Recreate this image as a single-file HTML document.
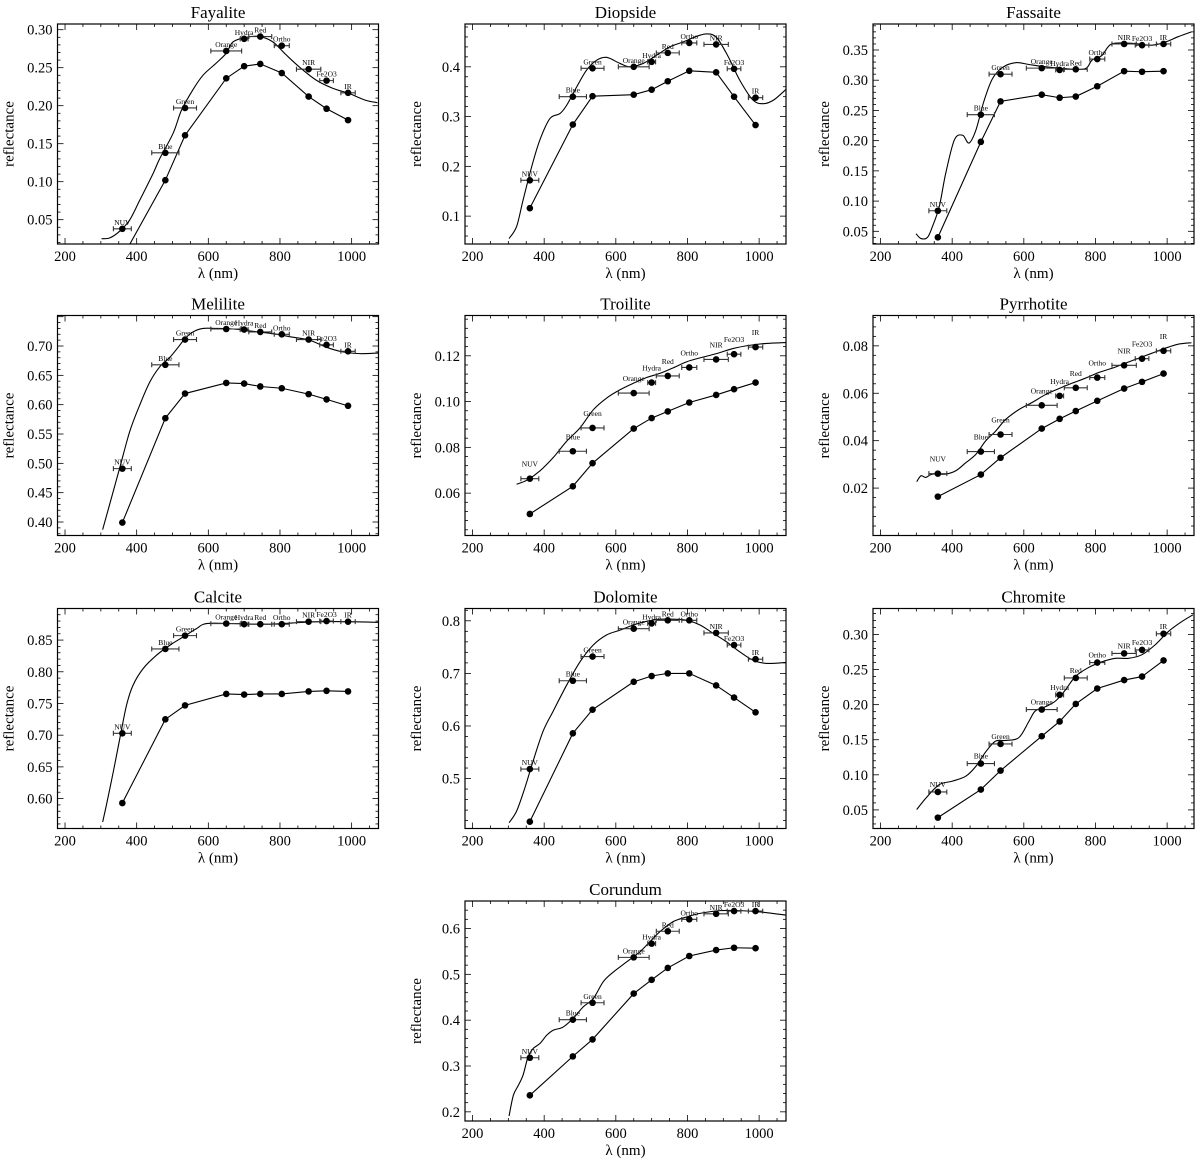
<!DOCTYPE html>
<html><head><meta charset="utf-8"><title>Mineral reflectance spectra</title>
<style>
html,body{margin:0;padding:0;background:#fff;}
svg{display:block;font-family:"Liberation Serif","DejaVu Serif",serif;}
</style></head>
<body>
<svg id="fig" width="1200" height="1163" viewBox="0 0 1200 1163" xmlns="http://www.w3.org/2000/svg"></svg>
<script>
// ---- shared filter data ----
const FILTER_NAMES = ['NUV','Blue','Green','Orange','Hydra','Red','Ortho','NIR','Fe2O3','IR'];
const FILTER_WL = [360,480,535,650,700,745,805,880,930,990];
const FILTER_HW = [25,38,32,43,11,32,21,34,19,20];
const X_TICKS = [200,400,600,800,1000];

// ---- Fayalite ----
const fayaliteUpper = [0.038,0.138,0.197,0.272,0.288,0.291,0.279,0.248,0.233,0.217];
const fayaliteLower = [0.0,0.102,0.161,0.236,0.252,0.255,0.243,0.212,0.196,0.181];
const fayaliteSpecW = [302,325,353,381,409,446,464,502,525,557,585,622,650,669,706,743,780,817,854,900,947,993,1040,1072];
const fayaliteSpecV = [0.025,0.026,0.035,0.050,0.076,0.111,0.130,0.164,0.194,0.221,0.240,0.256,0.269,0.284,0.290,0.291,0.284,0.267,0.251,0.234,0.223,0.216,0.207,0.204];
const fayaliteTicks = [0.05,0.10,0.15,0.20,0.25,0.30];
// ---- Diopside ----
const diopsideUpper = [0.172,0.340,0.397,0.400,0.410,0.428,0.448,0.445,0.396,0.338];
const diopsideLower = [0.116,0.284,0.341,0.344,0.354,0.371,0.392,0.389,0.340,0.283];
const diopsideSpecW = [302,323,341,365,388,416,444,463,491,518,546,574,611,639,677,713,751,788,821,853,881,914,946,983,1012,1040,1077];
const diopsideSpecV = [0.055,0.079,0.132,0.199,0.253,0.296,0.306,0.323,0.360,0.393,0.413,0.419,0.407,0.400,0.407,0.423,0.440,0.450,0.460,0.466,0.459,0.420,0.373,0.333,0.326,0.333,0.356];
const diopsideTicks = [0.1,0.2,0.3,0.4];
// ---- Fassaite ----
const fassaiteUpper = [0.084,0.243,0.310,0.320,0.317,0.318,0.335,0.360,0.358,0.360];
const fassaiteLower = [0.040,0.198,0.265,0.276,0.271,0.273,0.290,0.315,0.314,0.315];
const fassaiteSpecW = [299,313,331,345,364,382,406,429,447,466,489,512,540,577,614,651,716,771,790,818,845,901,957,994,1031,1068];
const fassaiteSpecV = [0.046,0.038,0.040,0.058,0.091,0.146,0.201,0.209,0.196,0.217,0.266,0.302,0.321,0.329,0.326,0.323,0.319,0.319,0.333,0.341,0.360,0.361,0.358,0.363,0.372,0.380];
const fassaiteTicks = [0.05,0.10,0.15,0.20,0.25,0.30,0.35];
// ---- Melilite ----
const meliliteUpper = [0.491,0.668,0.711,0.729,0.728,0.724,0.720,0.711,0.702,0.691];
const meliliteLower = [0.399,0.577,0.619,0.637,0.636,0.631,0.628,0.618,0.609,0.598];
const meliliteSpecW = [305,325,353,381,409,437,465,493,516,534,557,585,622,669,725,780,836,882,929,975,1022,1074];
const meliliteSpecV = [0.387,0.431,0.493,0.555,0.600,0.639,0.665,0.681,0.698,0.712,0.724,0.730,0.730,0.729,0.725,0.721,0.715,0.710,0.698,0.690,0.687,0.688];
const meliliteTicks = [0.40,0.45,0.50,0.55,0.60,0.65,0.70];
// ---- Troilite ----
const troiliteUpper = [0.0663,0.0783,0.0885,0.1037,0.1083,0.1112,0.1149,0.1184,0.1207,0.1238];
const troiliteLower = [0.0509,0.0630,0.0731,0.0882,0.0928,0.0957,0.0996,0.1029,0.1054,0.1083];
const troiliteSpecW = [323,351,388,425,463,500,537,574,611,649,686,723,761,798,835,882,928,975,1021,1077];
const troiliteSpecV = [0.0639,0.0656,0.0697,0.0755,0.0827,0.0885,0.0964,0.1015,0.1051,0.1080,0.1105,0.1123,0.1148,0.1174,0.1191,0.1210,0.1232,0.1246,0.1254,0.1258];
const troiliteTicks = [0.06,0.08,0.10,0.12];
// ---- Pyrrhotite ----
const pyrrhotiteUpper = [0.0261,0.0354,0.0426,0.0549,0.0589,0.0623,0.0666,0.0718,0.0746,0.0779];
const pyrrhotiteLower = [0.0164,0.0257,0.0328,0.0451,0.0492,0.0525,0.0568,0.0620,0.0648,0.0683];
const pyrrhotiteSpecW = [301,313,326,345,382,410,438,466,493,521,549,586,623,660,697,734,771,808,845,882,919,956,993,1031,1068];
const pyrrhotiteSpecV = [0.0227,0.0252,0.0245,0.0259,0.0259,0.0273,0.0307,0.0342,0.0398,0.0440,0.0489,0.0531,0.0561,0.0594,0.0619,0.0642,0.0663,0.0687,0.0705,0.0726,0.0747,0.0768,0.0789,0.0807,0.0813];
const pyrrhotiteTicks = [0.02,0.04,0.06,0.08];
// ---- Calcite ----
const calciteUpper = [0.703,0.836,0.857,0.876,0.875,0.875,0.875,0.879,0.880,0.879];
const calciteLower = [0.593,0.725,0.747,0.765,0.764,0.765,0.765,0.769,0.770,0.769];
const calciteSpecW = [305,316,335,353,372,390,418,455,493,530,567,595,669,761,836,910,993,1074];
const calciteSpecV = [0.563,0.591,0.643,0.695,0.748,0.779,0.805,0.826,0.842,0.855,0.868,0.876,0.876,0.875,0.877,0.879,0.879,0.878];
const calciteTicks = [0.60,0.65,0.70,0.75,0.80,0.85];
// ---- Dolomite ----
const dolomiteUpper = [0.518,0.686,0.732,0.785,0.795,0.801,0.801,0.777,0.754,0.727];
const dolomiteLower = [0.418,0.586,0.631,0.684,0.695,0.700,0.700,0.677,0.654,0.626];
const dolomiteSpecW = [302,323,346,369,397,425,463,500,537,574,611,649,686,723,761,798,835,872,909,946,983,1021,1077];
const dolomiteSpecV = [0.416,0.438,0.482,0.533,0.590,0.628,0.678,0.722,0.754,0.773,0.782,0.792,0.799,0.803,0.803,0.801,0.792,0.776,0.760,0.741,0.725,0.719,0.721];
const dolomiteTicks = [0.5,0.6,0.7,0.8];
// ---- Chromite ----
const chromiteUpper = [0.0756,0.116,0.144,0.193,0.214,0.238,0.260,0.273,0.278,0.301];
const chromiteLower = [0.039,0.079,0.106,0.155,0.176,0.201,0.223,0.235,0.240,0.263];
const chromiteSpecW = [301,327,364,401,438,466,494,521,549,586,614,632,660,688,716,744,781,818,855,892,929,966,1003,1040,1072];
const chromiteSpecV = [0.0505,0.067,0.086,0.091,0.098,0.112,0.133,0.148,0.149,0.153,0.176,0.191,0.197,0.205,0.221,0.240,0.253,0.261,0.266,0.266,0.271,0.285,0.304,0.318,0.328];
const chromiteTicks = [0.05,0.10,0.15,0.20,0.25,0.30];
// ---- Corundum ----
const corundumUpper = [0.318,0.401,0.438,0.537,0.567,0.594,0.620,0.632,0.638,0.638];
const corundumLower = [0.236,0.321,0.358,0.458,0.488,0.514,0.540,0.553,0.558,0.557];
const corundumSpecW = [302,314,328,341,355,369,388,407,425,453,481,509,537,565,593,630,667,695,723,760,797,835,891,947,1003,1077];
const corundumSpecV = [0.191,0.236,0.258,0.280,0.320,0.338,0.349,0.367,0.378,0.385,0.404,0.429,0.447,0.484,0.505,0.527,0.549,0.571,0.593,0.615,0.625,0.633,0.639,0.639,0.636,0.629];
const corundumTicks = [0.2,0.3,0.4,0.5,0.6];

const X_MIN = 179, X_MAX = 1075;
const COL_X = [57.5, 465, 873];
const ROW_Y = [24, 315.5, 608.5, 901];
const BOX_W = 321, BOX_H = 220;

const panels = [
 {name:'Fayalite', key:'fayalite', col:0,row:0,ymin:0.018,ymax:0.3075,dec:2,lab:4,up:fayaliteUpper,lo:fayaliteLower,sw:fayaliteSpecW,sv:fayaliteSpecV,ticks:fayaliteTicks},
 {name:'Diopside', key:'diopside', col:1,row:0,ymin:0.044,ymax:0.486,dec:1,lab:4,up:diopsideUpper,lo:diopsideLower,sw:diopsideSpecW,sv:diopsideSpecV,ticks:diopsideTicks},
 {name:'Fassaite', key:'fassaite', col:2,row:0,ymin:0.029,ymax:0.393,dec:2,lab:4,up:fassaiteUpper,lo:fassaiteLower,sw:fassaiteSpecW,sv:fassaiteSpecV,ticks:fassaiteTicks},
 {name:'Melilite', key:'melilite', col:0,row:1,ymin:0.377,ymax:0.752,dec:2,lab:4,up:meliliteUpper,lo:meliliteLower,sw:meliliteSpecW,sv:meliliteSpecV,ticks:meliliteTicks},
 {name:'Troilite', key:'troilite', col:1,row:1,ymin:0.0415,ymax:0.1376,dec:2,lab:12,up:troiliteUpper,lo:troiliteLower,sw:troiliteSpecW,sv:troiliteSpecV,ticks:troiliteTicks},
 {name:'Pyrrhotite', key:'pyrrhotite', col:2,row:1,ymin:0.0,ymax:0.0928,dec:2,lab:12,up:pyrrhotiteUpper,lo:pyrrhotiteLower,sw:pyrrhotiteSpecW,sv:pyrrhotiteSpecV,ticks:pyrrhotiteTicks},
 {name:'Calcite', key:'calcite', col:0,row:2,ymin:0.5528,ymax:0.8998,dec:2,lab:4,up:calciteUpper,lo:calciteLower,sw:calciteSpecW,sv:calciteSpecV,ticks:calciteTicks},
 {name:'Dolomite', key:'dolomite', col:1,row:2,ymin:0.405,ymax:0.8234,dec:1,lab:4,up:dolomiteUpper,lo:dolomiteLower,sw:dolomiteSpecW,sv:dolomiteSpecV,ticks:dolomiteTicks},
 {name:'Chromite', key:'chromite', col:2,row:2,ymin:0.0235,ymax:0.337,dec:2,lab:5,up:chromiteUpper,lo:chromiteLower,sw:chromiteSpecW,sv:chromiteSpecV,ticks:chromiteTicks},
 {name:'Corundum', key:'corundum', col:1,row:3,ymin:0.18,ymax:0.66,dec:1,lab:4,up:corundumUpper,lo:corundumLower,sw:corundumSpecW,sv:corundumSpecV,ticks:corundumTicks}
];

const NS = 'http://www.w3.org/2000/svg';
const svg = document.getElementById('fig');
function mk(tag, attrs, parent){
  const e = document.createElementNS(NS, tag);
  for (const k in attrs) e.setAttribute(k, attrs[k]);
  (parent||svg).appendChild(e);
  return e;
}
function smoothPath(pts){
  let d = 'M' + pts[0][0].toFixed(2) + ',' + pts[0][1].toFixed(2);
  for (let i = 0; i < pts.length - 1; i++) {
    const p0 = pts[Math.max(0, i-1)], p1 = pts[i], p2 = pts[i+1], p3 = pts[Math.min(pts.length-1, i+2)];
    const c1x = p1[0] + (p2[0]-p0[0])/6, c1y = p1[1] + (p2[1]-p0[1])/6;
    const c2x = p2[0] - (p3[0]-p1[0])/6, c2y = p2[1] - (p3[1]-p1[1])/6;
    d += 'C' + c1x.toFixed(2) + ',' + c1y.toFixed(2) + ' ' + c2x.toFixed(2) + ',' + c2y.toFixed(2) + ' ' + p2[0].toFixed(2) + ',' + p2[1].toFixed(2);
  }
  return d;
}
const defs = mk('defs', {});

panels.forEach(function(p, pi){
  const L = COL_X[p.col], T = ROW_Y[p.row], R = L + BOX_W, B = T + BOX_H;
  const xs = function(w){ return L + (w - X_MIN) / (X_MAX - X_MIN) * BOX_W; };
  const ys = function(v){ return B - (v - p.ymin) / (p.ymax - p.ymin) * BOX_H; };
  const g = mk('g', {});
  
  

  const cp = mk('clipPath', {id:'clip' + pi}, defs);
  mk('rect', {x:L, y:T, width:BOX_W, height:BOX_H}, cp);

  const title = mk('text', {x:L + BOX_W/2, y:T - 6, 'text-anchor':'middle', 'font-size':'17', fill:'#000'}, g);
  title.textContent = p.name;
  
  

  const frame = mk('rect', {x:L, y:T, width:BOX_W, height:BOX_H, fill:'none', stroke:'#000', 'stroke-width':'1.2'}, g);
  
  

  const xt = mk('g', {stroke:'#000', 'stroke-width':'0.8'}, g);
  
  
  for (let w = 200; w <= X_MAX; w += 50) {
    const major = (w % 200 === 0);
    const len = major ? 6 : 3;
    const x = xs(w);
    mk('line', {x1:x, y1:B, x2:x, y2:B - len}, xt);
    mk('line', {x1:x, y1:T, x2:x, y2:T + len}, xt);
  }
  X_TICKS.forEach(function(w){
    const t = mk('text', {x:xs(w), y:B + 17, 'text-anchor':'middle', 'font-size':'14.5', fill:'#000', stroke:'none'}, g);
    t.textContent = String(w);
    
    
  });
  const xl = mk('text', {x:L + BOX_W/2, y:B + 34, 'text-anchor':'middle', 'font-size':'15', fill:'#000'}, g);
  xl.textContent = 'λ (nm)';
  
  

  const yt = mk('g', {stroke:'#000', 'stroke-width':'0.8'}, g);
  
  
  const step = p.ticks[1] - p.ticks[0];
  const minor = step / 5;
  const start = Math.ceil((p.ymin - 1e-9) / minor);
  for (let i = start; i * minor <= p.ymax + 1e-9; i++) {
    const v = i * minor;
    const rel = (v - p.ticks[0]) / step;
    const major = Math.abs(rel - Math.round(rel)) < 1e-6;
    const len = major ? 6 : 3;
    const y = ys(v);
    mk('line', {x1:L, y1:y, x2:L + len, y2:y}, yt);
    mk('line', {x1:R, y1:y, x2:R - len, y2:y}, yt);
  }
  p.ticks.forEach(function(v){
    const t = mk('text', {x:L - 5, y:ys(v) + 5, 'text-anchor':'end', 'font-size':'14.5', fill:'#000'}, g);
    t.textContent = v.toFixed(p.dec);
    
    
  });
  const yl = mk('text', {x:0, y:0, 'text-anchor':'middle', 'font-size':'15', fill:'#000',
     transform:'translate(' + (L - 44) + ',' + (T + BOX_H/2) + ') rotate(-90)'}, g);
  yl.textContent = 'reflectance';
  
  

  const pts = p.sw.map(function(w, i){ return [xs(w), ys(p.sv[i])]; });
  const spec = mk('path', {d:smoothPath(pts), fill:'none', stroke:'#000', 'stroke-width':'1.1', 'clip-path':'url(#clip' + pi + ')'}, g);
  
  

  let d2 = '';
  FILTER_WL.forEach(function(w, i){ d2 += (i ? 'L' : 'M') + xs(w).toFixed(2) + ',' + ys(p.lo[i]).toFixed(2); });
  const lo = mk('path', {d:d2, fill:'none', stroke:'#000', 'stroke-width':'1.1', 'clip-path':'url(#clip' + pi + ')'}, g);
  
  
  const loG = mk('g', {'clip-path':'url(#clip' + pi + ')'}, g);
  FILTER_WL.forEach(function(w, i){
    const c = mk('circle', {cx:xs(w), cy:ys(p.lo[i]), r:3.3, fill:'#000'}, loG);
    
    
  });

  FILTER_WL.forEach(function(w, i){
    const x = xs(w), y = ys(p.up[i]);
    const x1 = xs(w - FILTER_HW[i]), x2 = xs(w + FILTER_HW[i]);
    const eb = mk('path', {d:'M' + x1 + ',' + y + 'L' + x2 + ',' + y + 'M' + x1 + ',' + (y-2.5) + 'L' + x1 + ',' + (y+2.5) + 'M' + x2 + ',' + (y-2.5) + 'L' + x2 + ',' + (y+2.5),
       stroke:'#333', 'stroke-width':'1.1', fill:'none'}, g);
    
    
    const c = mk('circle', {cx:x, cy:y, r:3.3, fill:'#000'}, g);
    
    
    const t = mk('text', {x:x, y:y - p.lab, 'text-anchor':'middle', 'font-size':'7.5', fill:'#000'}, g);
    t.textContent = FILTER_NAMES[i];
    
    
  });
});
</script>
</body></html>
